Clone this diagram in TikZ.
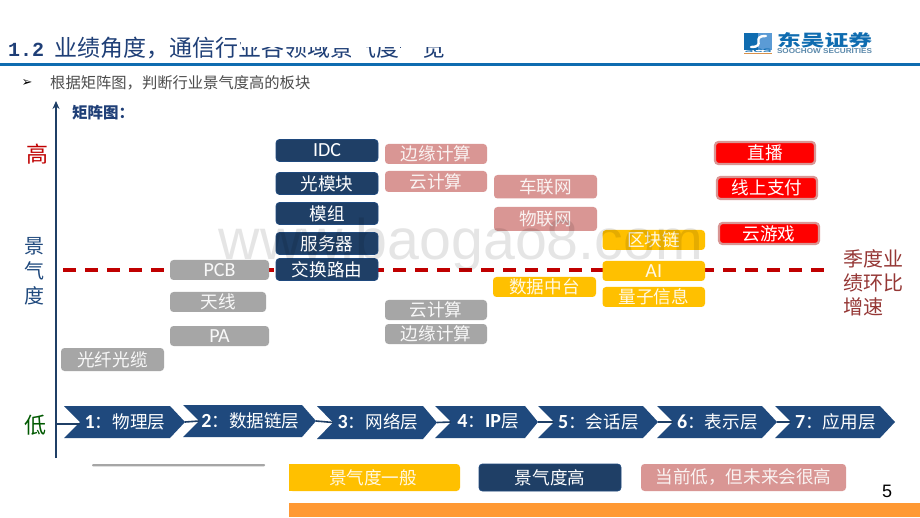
\documentclass[tikz,border=0pt]{standalone}
\usepackage{graphicx}
\usepackage{fontspec}
\setmainfont{Noto Sans CJK SC}
\newfontfamily\lat{Carlito}
\newfontfamily\arl{Liberation Sans}
\newfontfamily\mon{Liberation Mono}
\newfontfamily\dv{DejaVu Sans}
\newcommand\lt[1]{{\lat\fontsize{20}{22}\selectfont #1}}
\newcommand\ld[1]{{\lat\bfseries\fontsize{20}{22}\selectfont #1}}
\usetikzlibrary{arrows.meta}
\definecolor{navy}{HTML}{1F3F66}
\definecolor{navyedge}{HTML}{1F497D}
\definecolor{chev}{HTML}{1F497D}
\definecolor{gr}{HTML}{A6A6A6}
\definecolor{pk}{HTML}{D99694}
\definecolor{ye}{HTML}{FFC000}
\definecolor{rd}{HTML}{FF0000}
\definecolor{dred}{HTML}{C00000}
\definecolor{ttl}{HTML}{1F3F77}
\definecolor{hdr}{HTML}{0F6CB0}
\definecolor{lhdr}{HTML}{5B9BD5}
\definecolor{orng}{HTML}{FF9933}
\definecolor{ssn}{HTML}{953735}
\tikzset{
 bxbase/.style={rounded corners=3.5pt,inner sep=0pt,text=white,font=\fontsize{17.6}{20}\selectfont},
 bnavy/.style={bxbase,fill=navy,draw=navyedge,line width=.8pt},
 bgray/.style={bxbase,fill=gr,text=white!92!gr},
 bpink/.style={bxbase,fill=pk,text=white!88!pk},
 byel/.style={bxbase,fill=ye,text=white!90!ye},
 bred/.style={bxbase,fill=rd,draw=pk,line width=2.2pt},
 chevlabel/.style={text=white,inner sep=0pt,font=\fontsize{17.6}{20}\selectfont,anchor=center},
 link/.style={draw=navy,line width=1.6pt},
 side/.style={inner sep=0pt,font=\fontsize{22}{24}\selectfont},
 season/.style={inner sep=0pt,anchor=west,text=ssn,font=\fontsize{20}{22}\selectfont}
}
\newcommand\bx[7]{%
 \pgfmathsetmacro\cx{(#3+#5)/2}\pgfmathsetmacro\cy{(#4+#6)/2}%
 \pgfmathsetmacro\ww{#5-#3}\pgfmathsetmacro\hh{#6-#4}%
 \node[#2,minimum width=\ww pt,minimum height=\hh pt] (#1) at (\cx,\cy) {#7};}
% name, left, top, right-corner, tip, bottom, label
\newcommand\chv[7]{%
 \pgfmathsetmacro\my{(#3+#6)/2}\pgfmathsetmacro\nx{#2+16}%
 \coordinate (#1n) at (\nx,\my);\coordinate (#1t) at (#5,\my);%
 \fill[chev] (#2,#3) -- (#4,#3) -- (#5,\my) -- (#4,#6) -- (#2,#6) -- (\nx,\my) -- cycle;%
 \pgfmathsetmacro\lx{(\nx+#4)/2}%
 \node[chevlabel] (#1l) at (\lx,\my-0.5) {#7};}
\begin{document}
\begin{tikzpicture}[x=1pt,y=-1pt]
\useasboundingbox (0,0) rectangle (920,518);
\fill[white] (0,0) rectangle (920,518);
% header
\node[anchor=base west,inner sep=0pt,text=ttl,font=\fontsize{23}{25}\selectfont] (title) at (8,56.5) {{\mon\bfseries\fontsize{20}{24}\selectfont 1.2}\hspace{10pt}业绩角度，通信行业各领域景气度一览};
\fill[white] (241,30) rectangle (450,47);
\fill[white] (351,44) rectangle (366,60);
\fill[white] (401,44) rectangle (424,60);
\fill[hdr] (0,63) rectangle (920,66);
% logo
\fill[hdr] (744,33) rectangle (758,50);
\fill[lhdr] (758,33) rectangle (772,50);
\draw[white,line width=2.4pt,line cap=round] (766,36) .. controls (750,36) and (767,47) .. (751,47);
\node[anchor=center,inner sep=0pt,text=hdr,font=\bfseries\arl] (scs) at (758,51) {\resizebox{27pt}{3.5pt}{SCS}};
\fill[orng!70!gray] (744,53.2) rectangle (772,54.2);
\node[anchor=center,inner sep=0pt,text=hdr] (logoa) at (824.5,40) {\resizebox{95pt}{14pt}{\bfseries 东吴证券}};
\node[anchor=center,inner sep=0pt,text=gr!50!hdr,font=\bfseries\arl] (logob) at (824.5,51.5) {\resizebox{95pt}{5pt}{SOOCHOW SECURITIES}};
% bullet
\node[inner sep=0pt,text=black,font=\dv\fontsize{13}{14}\selectfont] (bullet) at (27,83) {➢};
\node[anchor=west,inner sep=0pt,text=black!70,font=\fontsize{15.3}{17}\selectfont] (sub) at (50,83) {根据矩阵图，判断行业景气度高的板块};
\node[anchor=west,inner sep=0pt,text=ttl,font=\bfseries\fontsize{15.5}{17}\selectfont] (jz) at (72,113) {矩阵图：};
% axis
\coordinate (axb) at (56,458);\coordinate (axt) at (56,101);\coordinate (ax0) at (56,424);
\draw[link,-{Stealth[length=8pt,width=7pt]}] (axb) -- (axt);
% side labels
\node[side,text=dred] (hi) at (38,154) {高};
\node[side,text=navyedge,font=\fontsize{20}{22}\selectfont] (j1) at (34,246) {景};
\node[side,text=navyedge,font=\fontsize{20}{22}\selectfont] (j2) at (34,271) {气};
\node[side,text=navyedge,font=\fontsize{20}{22}\selectfont] (j3) at (34,296) {度};
\node[side,text=green!35!black] (lo) at (35,425) {低};
% dashed
\coordinate (da) at (63,270);\coordinate (db) at (832,270);
\draw[dred,line width=3.2pt,dash pattern=on 13pt off 9pt] (da) -- (db);
% chevrons
\chv{c1}{64}{406}{170}{185}{438}{\ld{1}：物理层}
\chv{c2}{183}{405}{302}{316}{437}{\ld{2}：数据链层}
\chv{c3}{317}{406}{423}{437}{439}{\ld{3}：网络层}
\chv{c4}{435}{406}{525}{538}{438}{\ld{4}：\ld{IP}层}
\chv{c5}{538}{406}{643}{658}{438}{\ld{5}：会话层}
\chv{c6}{657}{406}{762}{777}{438}{\ld{6}：表示层}
\chv{c7}{775}{406}{880}{895}{438}{\ld{7}：应用层}
\draw[link] (ax0) -- (c1n|-ax0);
\draw[link] (c1t) -- (c2n);
\draw[link] (c2t) -- (c3n);
\draw[link] (c3t) -- (c4n);
\draw[link] (c4t) -- (c5n);
\draw[link] (c5t) -- (c6n);
\draw[link] (c6t) -- (c7n);
% boxes
\bx{b1}{bnavy}{276}{139.5}{378}{161.5}{\lt{IDC}}
\bx{b2}{bnavy}{276}{172.5}{378}{194.5}{光模块}
\bx{b3}{bnavy}{276}{202.5}{378}{224.5}{模组}
\bx{b4}{bnavy}{276}{232.5}{378}{254.5}{服务器}
\bx{b5}{bnavy}{276}{258.5}{378}{280.5}{交换路由}
\bx{g1}{bgray}{170}{260}{269}{280}{\lt{PCB}}
\bx{g2}{bgray}{170}{292}{266}{312}{天线}
\bx{g3}{bgray}{170}{326}{269}{346}{\lt{PA}}
\bx{g4}{bgray}{61}{348}{164}{371}{光纤光缆}
\bx{p1}{bpink}{385}{144}{487}{164}{边缘计算}
\bx{p2}{bpink}{385}{171}{487}{192}{云计算}
\bx{g5}{bgray}{385}{300}{487}{320}{云计算}
\bx{g6}{bgray}{385}{324}{487}{344}{边缘计算}
\bx{p3}{bpink}{494}{175}{597}{198.5}{车联网}
\bx{p4}{bpink}{494}{207}{597}{231}{物联网}
\bx{y1}{byel}{493}{277}{596}{297}{数据中台}
\bx{y2}{byel}{602.5}{230}{705}{250}{区块链}
\bx{y3}{byel}{602.5}{261}{705}{281}{\lt{AI}}
\bx{y4}{byel}{602.5}{287}{705}{307}{量子信息}
\bx{r1}{bred}{715}{142}{815}{164}{直播}
\bx{r2}{bred}{717}{177}{817}{199}{线上支付}
\bx{r3}{bred}{719}{223}{819}{244}{云游戏}
% season label
\node[season] (s1) at (843,259) {季度业};
\node[season] (s2) at (843,283) {绩环比};
\node[season] (s3) at (843,307) {增速};
% legend
\fill[gr,rounded corners=1pt] (92,464) rectangle (265,466.3);
\fill[ye,rounded corners=3.5pt] (289,464) rectangle (460,491);
\fill[ye] (289,464) rectangle (296,491);
\node[inner sep=0pt,text=white!90!ye,font=\fontsize{17.6}{20}\selectfont] (l1) at (373,478) {景气度一般};
\bx{l2}{bnavy}{479}{464}{621}{491}{景气度高}
\bx{l3}{bpink}{641}{464}{846}{491}{当前低，但未来会很高}
% footer
\fill[orng] (289,503) rectangle (920,517);
\node[inner sep=0pt,text=black,font=\arl\fontsize{18}{20}\selectfont] (pg) at (887,491) {5};
% watermark
\node[anchor=base,inner sep=0pt,text=black,opacity=.1,font=\arl\fontsize{57.3}{60}\selectfont] (wm) at (461,260) {www.baogao8.com};
\end{tikzpicture}
\end{document}
